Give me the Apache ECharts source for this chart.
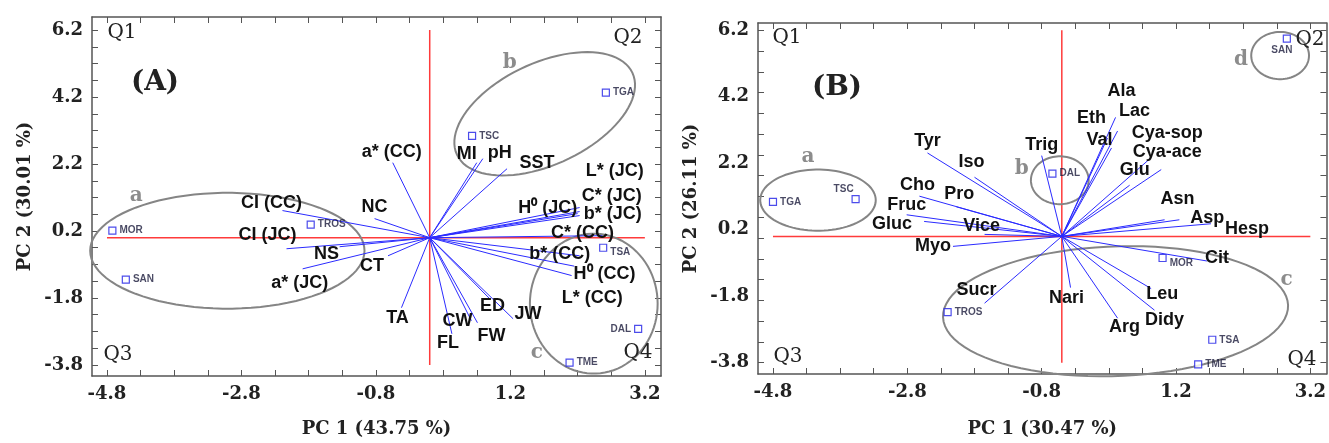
<!DOCTYPE html>
<html>
<head>
<meta charset="utf-8">
<script src="https://cdn.jsdelivr.net/npm/echarts@6/dist/echarts.min.js"></script>
<style>
  html, body { margin: 0; background: #fff; }
  #chart { width: 1329px; height: 443px; }
</style>
</head>
<body>
<div id="chart"></div>
<script>
// ---------- panel A ----------
const samplesA = ['MOR', 'SAN', 'TROS', 'TSC', 'TGA', 'TSA', 'DAL', 'TME'];
const samplesAX = [-4.72, -4.52, -1.77, 0.63, 2.62, 2.58, 3.10, 2.08];
const samplesAY = [0.21, -1.25, 0.39, 3.04, 4.33, -0.30, -2.72, -3.73];

const varsA = ['a* (CC)', 'NC', 'CI (CC)', 'CI (JC)', 'NS', 'a* (JC)', 'CT', 'TA', 'MI', 'pH', 'SST',
  'L* (JC)', 'C* (JC)', 'b* (JC)', 'H⁰ (JC)', 'C* (CC)', 'b* (CC)', 'H⁰ (CC)', 'L* (CC)',
  'ED', 'JW', 'FW', 'CW', 'FL'];
const varsAX = [-0.55, -0.82, -2.19, -2.13, -1.34, -1.89, -0.62, -0.42, 0.70, 0.79, 1.15,
  2.23, 2.23, 2.23, 2.20, 2.57, 2.23, 2.11, 2.15, 0.89, 1.24, 0.71, 0.62, 0.33];
const varsAY = [2.24, 0.57, 0.81, -0.33, -0.27, -0.93, -0.54, -2.09, 2.24, 2.36, 2.06,
  0.90, 0.78, 0.66, 0.72, 0.06, -0.54, -1.13, -0.85, -1.82, -2.42, -2.54, -2.48, -2.87];

const groupsA = ['a', 'b', 'c'];
const groupsACx = [-3.01, 1.71, 2.44];
const groupsACy = [-0.39, 3.70, -1.97];
const groupsARx = [2.04, 1.44, 0.95];
const groupsARy = [1.73, 1.52, 2.09];
const groupsAAngle = [0, 25, 0];

const originA = [0, 0];
const xLabelsA = [-4.8, -2.8, -0.8, 1.2, 3.2];
const yLabelsA = [6.2, 4.2, 2.2, 0.2, -1.8, -3.8];

// ---------- panel B ----------
const samplesB = ['TGA', 'TSC', 'DAL', 'SAN', 'TROS', 'MOR', 'TSA', 'TME'];
const samplesBX = [-4.80, -3.57, -0.64, 2.85, -2.20, 1.00, 1.74, 1.53];
const samplesBY = [1.04, 1.12, 1.89, 5.95, -2.28, -0.65, -3.11, -3.85];

const varsB = ['Tyr', 'Iso', 'Cho', 'Pro', 'Fruc', 'Gluc', 'Vice', 'Myo', 'Trig', 'Eth', 'Val', 'Ala', 'Lac',
  'Cya-sop', 'Cya-ace', 'Glu', 'Asn', 'Asp', 'Hesp', 'Cit', 'Leu', 'Didy', 'Arg', 'Nari', 'Sucr'];
const varsBX = [-2.50, -1.80, -2.62, -2.07, -2.81, -2.55, -1.65, -2.12, -0.80, 0.18, 0.24, 0.30, 0.33,
  0.83, 0.98, 0.51, 1.03, 1.25, 1.72, 1.66, 0.83, 0.88, 0.33, -0.37, -1.65];
const varsBY = [2.51, 1.78, 1.21, 0.89, 0.65, 0.45, 0.06, -0.30, 2.43, 2.96, 2.66, 3.58, 3.17,
  2.37, 2.01, 1.54, 0.50, 0.50, 0.38, -0.74, -1.57, -2.22, -2.46, -1.54, -2.01];

const groupsB = ['a', 'b', 'c', 'd'];
const groupsBCx = [-4.13, -0.53, 0.30, 2.75];
const groupsBCy = [1.09, 1.69, -2.25, 5.44];
const groupsBRx = [0.86, 0.43, 2.57, 0.43];
const groupsBRy = [0.92, 0.72, 1.95, 0.71];
const groupsBAngle = [0, 0, 2, 0];

const originB = [-0.5, 0];
const xLabelsB = [-4.8, -2.8, -0.8, 1.2, 3.2];
const yLabelsB = [6.2, 4.2, 2.2, 0.2, -1.8, -3.8];

// ---------- layout (pixel offsets of labels) ----------
const varLabelOffA = {
  'a* (CC)': [-1, -11], 'NC': [0, -12], 'CI (CC)': [-11, -8], 'CI (JC)': [-19, -14], 'NS': [-13, 7],
  'a* (JC)': [-3, 14], 'CT': [-16, 10], 'TA': [-4, 10], 'MI': [-10, -9], 'pH': [17, -6], 'SST': [30, -6],
  'L* (JC)': [35, -37], 'C* (JC)': [32, -16], 'b* (JC)': [33, -2], 'H⁰ (JC)': [-30, -6],
  'C* (CC)': [-20, -3], 'b* (CC)': [-20, -2], 'H⁰ (CC)': [33, -2], 'L* (CC)': [18, 32],
  'ED': [3, 7], 'JW': [15, -5], 'FW': [14, 13], 'CW': [-14, 0], 'FL': [-4, 9]
};
const varLabelOffB = {
  'Tyr': [0, -12], 'Iso': [-3, -15], 'Cho': [-2, -11], 'Pro': [3, -13], 'Fruc': [0, -10], 'Gluc': [-32, 3],
  'Vice': [-3, -8], 'Myo': [-20, 0], 'Trig': [0, -11], 'Eth': [-16, -20], 'Val': [-12, -8], 'Ala': [6, -26],
  'Lac': [17, -20], 'Cya-sop': [16, -25], 'Cya-ace': [6, -18], 'Glu': [5, -15], 'Asn': [13, -21],
  'Asp': [28, -2], 'Hesp': [36, 5], 'Cit': [10, -3], 'Leu': [11, 5], 'Didy': [10, 10], 'Arg': [7, 9],
  'Nari': [-4, 10], 'Sucr': [-8, -13]
};
const groupLabelOffA = { a: [-91, -55], b: [-35, -51], c: [-57, 49] };
const groupLabelOffB = { a: [-10, -43], b: [-38, -11], c: [171, -31], d: [-39, 4] };
const pointLabelA = { DAL: { position: 'left' }, TSA: { offset: [0, 5] } };
const pointLabelB = { TSC: { position: 'top', offset: [-12, 2] }, SAN: { position: 'bottom', offset: [-5, 0] },
  MOR: { offset: [0, 5] } };

const axisColor = '#555';
const serifBold = { fontFamily: 'DejaVu Serif', fontWeight: 'bold', fontSize: 18, color: '#222' };
const varFont = 'bold 18px "Liberation Sans", Arial, sans-serif';
const groupFont = 'bold 20px "DejaVu Serif", serif';

function stepTicks(start, step, count) {
  const out = [];
  for (let i = 0; i <= count; i++) out.push(+(start + step * i).toFixed(4));
  return out;
}

function mainAxis(gridIndex, position, min, max, ticks, labels, name, gap) {
  return {
    type: 'value', gridIndex, position, min, max,
    name, nameLocation: 'middle', nameGap: gap, nameTextStyle: { ...serifBold },
    axisLine: { show: true, onZero: false, lineStyle: { color: axisColor, width: 1.5 } },
    axisTick: { show: true, inside: true, length: 6, customValues: ticks, lineStyle: { color: axisColor } },
    axisLabel: { show: true, customValues: labels, formatter: v => v.toFixed(1), margin: 9, ...serifBold },
    splitLine: { show: false }
  };
}
function mirrorAxis(gridIndex, position, min, max, ticks) {
  return {
    type: 'value', gridIndex, position, min, max,
    axisLine: { show: true, onZero: false, lineStyle: { color: axisColor, width: 1.5 } },
    axisTick: { show: true, inside: true, length: 6, customValues: ticks, lineStyle: { color: axisColor } },
    axisLabel: { show: false },
    splitLine: { show: false }
  };
}

function pointSeries(names, xs, ys, labelMap, ai) {
  return {
    type: 'scatter', xAxisIndex: ai, yAxisIndex: ai, symbol: 'rect', symbolSize: 7, z: 5, silent: true,
    itemStyle: { color: '#fff', borderColor: '#1f1fe6', borderWidth: 1.2 },
    label: { show: true, position: 'right', distance: 3, formatter: p => p.name,
      fontSize: 10, fontWeight: 'bold', fontFamily: 'Liberation Sans', color: '#1c1c3c' },
    data: names.map((n, i) => ({ name: n, value: [xs[i], ys[i]], label: labelMap[n] }))
  };
}

function vectorSeries(names, xs, ys, origin, offsets, ai) {
  return {
    type: 'custom', xAxisIndex: ai, yAxisIndex: ai, silent: true, z: 3,
    data: names.map((n, i) => [xs[i], ys[i]]),
    renderItem: (params, api) => {
      const p0 = api.coord(origin);
      const p1 = api.coord([api.value(0), api.value(1)]);
      const name = names[params.dataIndex];
      const off = offsets[name] || [0, -10];
      return {
        type: 'group',
        children: [
          { type: 'line', shape: { x1: p0[0], y1: p0[1], x2: p1[0], y2: p1[1] },
            style: { stroke: '#2b2bff', lineWidth: 1 } },
          { type: 'text', x: p1[0] + off[0], y: p1[1] + off[1], z2: 10,
            style: { text: name, align: 'center', verticalAlign: 'middle', font: varFont, fill: '#111' } }
        ]
      };
    }
  };
}

function ellipseSeries(names, cx, cy, rx, ry, angle, offsets, ai) {
  return {
    type: 'custom', xAxisIndex: ai, yAxisIndex: ai, silent: true, z: 2,
    data: names.map((n, i) => [cx[i], cy[i], rx[i], ry[i], angle[i]]),
    renderItem: (params, api) => {
      const c = api.coord([api.value(0), api.value(1)]);
      const s = api.size([api.value(2), api.value(3)]);
      const a = api.value(4) * Math.PI / 180;
      const pts = [];
      for (let k = 0; k < 90; k++) {
        const t = k / 90 * Math.PI * 2;
        const ex = s[0] * Math.cos(t), ey = s[1] * Math.sin(t);
        pts.push([c[0] + ex * Math.cos(a) + ey * Math.sin(a), c[1] - ex * Math.sin(a) + ey * Math.cos(a)]);
      }
      const name = names[params.dataIndex];
      const off = offsets[name];
      return {
        type: 'group',
        children: [
          { type: 'polygon', shape: { points: pts }, style: { fill: 'none', stroke: '#858585', lineWidth: 2 } },
          { type: 'text', x: c[0] + off[0], y: c[1] + off[1],
            style: { text: name, align: 'center', verticalAlign: 'middle', font: groupFont, fill: '#8c8c8c' } }
        ]
      };
    }
  };
}

function crossSeries(origin, xLabels, yLabels, ai) {
  const style = { type: 'line', xAxisIndex: ai, yAxisIndex: ai, symbol: 'none', silent: true, z: 1,
    lineStyle: { color: '#ff3b3b', width: 1.5 } };
  return [
    { ...style, data: [[origin[0], Math.min(...yLabels)], [origin[0], Math.max(...yLabels)]] },
    { ...style, data: [[Math.min(...xLabels), origin[1]], [Math.max(...xLabels), origin[1]]] }
  ];
}

function qText(text, x, y, big) {
  return { type: 'text', x, y, z: 20,
    style: { text, align: 'center', verticalAlign: 'middle',
      font: big ? 'bold 28px "DejaVu Serif", serif' : '20px "DejaVu Serif", serif', fill: '#222' } };
}

const xMin = -5.023, xMax = 3.44;
const xTicks = stepTicks(-4.8, 0.5, 16);
const yTicksA = stepTicks(-3.8, 0.5, 20);
const yTicksB = stepTicks(-3.8, 0.625, 16);

const chart = echarts.init(document.getElementById('chart'));
chart.setOption({
  animation: false,
  backgroundColor: '#fff',
  grid: [
    { left: 92, top: 17, width: 569, height: 359 },
    { left: 758, top: 23, width: 569, height: 357 }
  ],
  xAxis: [
    mainAxis(0, 'bottom', xMin, xMax, xTicks, xLabelsA, 'PC 1 (43.75 %)', 44),
    mirrorAxis(0, 'top', xMin, xMax, xTicks),
    mainAxis(1, 'bottom', xMin, xMax, xTicks, xLabelsB, 'PC 1 (30.47 %)', 46),
    mirrorAxis(1, 'top', xMin, xMax, xTicks)
  ],
  yAxis: [
    mainAxis(0, 'left', -4.13, 6.59, yTicksA, yLabelsA, 'PC 2 (30.01 %)', 58),
    mirrorAxis(0, 'right', -4.13, 6.59, yTicksA),
    mainAxis(1, 'left', -4.14, 6.42, yTicksB, yLabelsB, 'PC 2 (26.11 %)', 58),
    mirrorAxis(1, 'right', -4.14, 6.42, yTicksB)
  ],
  graphic: [
    qText('Q1', 122, 33), qText('Q2', 628, 38), qText('Q3', 118, 355), qText('Q4', 638, 353),
    qText('(A)', 155, 83, true),
    qText('Q1', 787, 38), qText('Q2', 1310, 40), qText('Q3', 788, 357), qText('Q4', 1302, 360),
    qText('(B)', 837, 88, true)
  ],
  series: [
    ...crossSeries(originA, xLabelsA, yLabelsA, 0),
    ellipseSeries(groupsA, groupsACx, groupsACy, groupsARx, groupsARy, groupsAAngle, groupLabelOffA, 0),
    vectorSeries(varsA, varsAX, varsAY, originA, varLabelOffA, 0),
    pointSeries(samplesA, samplesAX, samplesAY, pointLabelA, 0),
    ...crossSeries(originB, xLabelsB, yLabelsB, 2),
    ellipseSeries(groupsB, groupsBCx, groupsBCy, groupsBRx, groupsBRy, groupsBAngle, groupLabelOffB, 2),
    vectorSeries(varsB, varsBX, varsBY, originB, varLabelOffB, 2),
    pointSeries(samplesB, samplesBX, samplesBY, pointLabelB, 2)
  ]
});
</script>
</body>
</html>
